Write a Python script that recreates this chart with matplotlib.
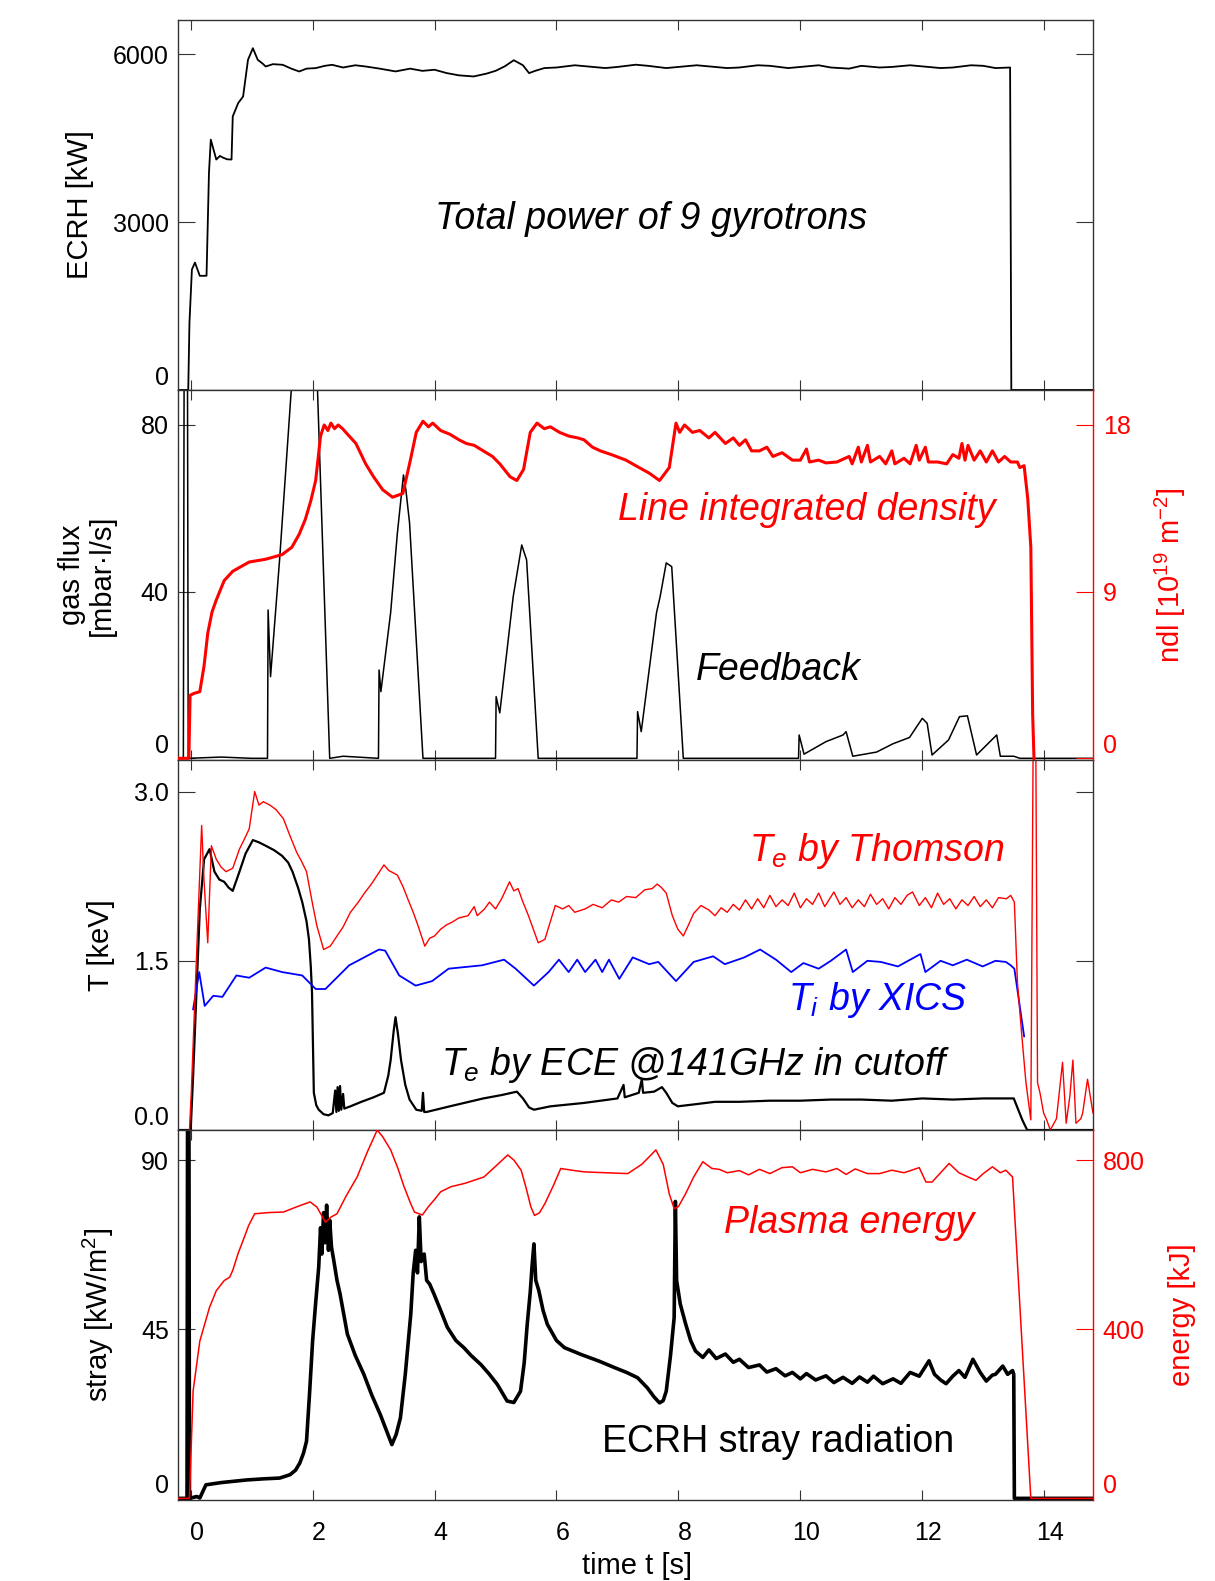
import matplotlib.pyplot as plt
import matplotlib.transforms as mtransforms

plt.rcParams['font.family'] = ['Liberation Sans', 'DejaVu Sans']
plt.rcParams['mathtext.fontset'] = 'custom'
plt.rcParams['mathtext.rm'] = 'Liberation Sans'
plt.rcParams['mathtext.it'] = 'Liberation Sans:italic'

# ---- data (time in s) ----
ecrh_t = [-0.2, -0.04, -0.02, 0.02, 0.07, 0.15, 0.26, 0.30, 0.33, 0.42, 0.48, 0.53, 0.6, 0.67,
          0.69, 0.78, 0.86, 0.94, 1.02, 1.10, 1.18, 1.23, 1.35, 1.51, 1.65, 1.78, 1.9, 2.05,
          2.2, 2.32, 2.5, 2.7, 2.87, 3.1, 3.36, 3.6, 3.8, 4.0, 4.2, 4.4, 4.64, 4.85, 5.0,
          5.15, 5.3, 5.45, 5.55, 5.65, 5.8, 6.0, 6.3, 6.5, 6.8, 7.0, 7.3, 7.5, 7.8, 8.0, 8.3,
          8.5, 8.8, 9.0, 9.3, 9.5, 9.8, 10.0, 10.3, 10.5, 10.8, 11.0, 11.3, 11.5, 11.8, 12.0,
          12.3, 12.5, 12.8, 13.0, 13.2, 13.44, 13.46, 14.8]
ecrh_kw = [0, 0, 1200, 2150, 2276, 2038, 2040, 3879, 4472, 4116, 4180, 4150, 4120, 4116,
           4887, 5126, 5243, 5897, 6105, 5897, 5830, 5778, 5820, 5808, 5740, 5689, 5740, 5749,
           5790, 5808, 5760, 5800, 5778, 5740, 5690, 5740, 5700, 5720, 5660, 5620, 5600, 5650, 5700,
           5780, 5890, 5800, 5660, 5700, 5750, 5760, 5800, 5780, 5750, 5770, 5810, 5790, 5750, 5770, 5800,
           5780, 5750, 5760, 5800, 5790, 5750, 5770, 5800, 5760, 5740, 5790, 5760, 5770, 5800, 5780,
           5750, 5760, 5800, 5790, 5750, 5760, 0, 0]

gas_t = [-0.2, -0.12, -0.1, -0.06, -0.04, 0.5, 1.0, 1.26, 1.27, 1.31, 1.46, 1.65, 1.75, 1.95,
         2.08, 2.28, 2.5, 3.08, 3.09, 3.12, 3.28, 3.39, 3.49, 3.53, 3.59, 3.81, 5.0, 5.01,
         5.07, 5.29, 5.43, 5.51, 5.70, 7.32, 7.33, 7.39, 7.64, 7.70, 7.80, 7.89, 8.08, 9.97,
         9.98, 10.06, 10.42, 10.70, 10.75, 10.86, 11.25, 11.52, 11.79, 12.0, 12.08, 12.16,
         12.43, 12.61, 12.74, 12.89, 13.22, 13.28, 13.5, 13.6, 14.8]
gas_flux = [0, 0, 150, 150, 0, 0.3, 0, 0, 35.6, 19.6, 48, 88.4, 96, 96,
            88.4, 0, 0.5, 0, 21.2, 16, 35, 54, 68, 64.4, 56.5, 0, 0, 14.8,
            10.9, 38.8, 51.2, 47.6, 0, 0, 11.2, 6.4, 34.9, 38.8, 46.9, 46.0, 0, 0,
            5.6, 1.0, 4.0, 5.6, 6.4, 0.5, 1.5, 3.5, 5.0, 9.6, 8.4, 0.8,
            4.4, 10.0, 10.2, 0.8, 5.6, 0.5, 0.5, 0, 0]

ndl_t = [-0.2, -0.03, -0.01, 0.05, 0.15, 0.22, 0.28, 0.35, 0.42, 0.55, 0.69, 0.96, 1.23, 1.5,
         1.66, 1.78, 1.88, 1.97, 2.05, 2.13, 2.19, 2.25, 2.3, 2.36, 2.42, 2.49, 2.6, 2.71, 2.87,
         3.0, 3.15, 3.31, 3.48, 3.59, 3.7, 3.81, 3.9, 3.97, 4.1, 4.25, 4.4, 4.52, 4.65, 4.8,
         4.95, 5.07, 5.24, 5.35, 5.46, 5.57, 5.68, 5.8, 5.9, 6.05, 6.2, 6.35, 6.45, 6.59, 6.72,
         6.9, 7.14, 7.3, 7.52, 7.69, 7.85, 7.96, 8.02, 8.1, 8.23, 8.35, 8.5, 8.6, 8.77, 8.9,
         9.0, 9.1, 9.2, 9.33, 9.45, 9.55, 9.7, 9.87, 10.0, 10.1, 10.15, 10.3, 10.42, 10.6,
         10.8, 10.85, 10.95, 11.0, 11.1, 11.15, 11.3, 11.4, 11.5, 11.55, 11.7, 11.8, 11.9,
         11.95, 12.05, 12.1, 12.25, 12.4, 12.5, 12.6, 12.65, 12.7, 12.75, 12.85, 12.95, 13.05,
         13.15, 13.25, 13.35, 13.45, 13.56, 13.6, 13.67, 13.73, 13.78, 13.81, 13.85]
ndl = [0, 0, 3.4, 3.5, 3.6, 5.0, 6.75, 7.9, 8.55, 9.6, 10.1, 10.6, 10.75, 11.0,
       11.4, 12.1, 12.9, 13.9, 15.0, 17.4, 18.0, 17.7, 18.1, 17.8, 18.0, 17.8, 17.4, 17.0, 15.9,
       15.2, 14.5, 14.1, 14.3, 15.9, 17.6, 18.2, 17.9, 18.1, 17.7, 17.5, 17.2, 17.0, 16.9, 16.6,
       16.3, 15.9, 15.2, 15.0, 15.6, 17.6, 18.1, 17.8, 17.9, 17.6, 17.4, 17.3, 17.2, 16.8, 16.6,
       16.4, 16.1, 15.8, 15.4, 15.0, 15.7, 18.1, 17.6, 18.0, 17.6, 17.7, 17.3, 17.6, 17.0, 17.3,
       16.9, 17.2, 16.6, 16.6, 16.8, 16.3, 16.5, 16.1, 16.1, 16.7, 16.0, 16.1, 15.95, 16.0,
       16.3, 15.9, 16.8, 16.0, 16.9, 16.0, 16.3, 15.9, 16.6, 15.9, 16.2, 15.9, 16.9,
       16.1, 16.8, 16.0, 16.0, 15.9, 16.4, 16.2, 17.0, 16.1, 16.9, 16.1, 16.6, 16.0,
       16.6, 16.0, 16.3, 16.0, 16.0, 15.7, 15.8, 14.0, 11.4, 2.4, -2.0]

te_ts_t = [-0.02, 0.01, 0.1, 0.18, 0.22, 0.28, 0.34, 0.42, 0.5, 0.58, 0.69, 0.8, 0.9, 0.96,
           1.05, 1.12, 1.19, 1.3, 1.4, 1.52, 1.62, 1.74, 1.82, 1.9, 2.0, 2.07, 2.18, 2.29, 2.4,
           2.5, 2.62, 2.75, 2.85, 2.95, 3.05, 3.17, 3.25, 3.39, 3.48, 3.56, 3.65, 3.73, 3.84,
           3.92, 4.0, 4.1, 4.2, 4.28, 4.4, 4.55, 4.65, 4.7, 4.82, 4.9, 5.0, 5.10, 5.23, 5.3,
           5.37, 5.45, 5.54, 5.62, 5.70, 5.81, 5.9, 5.98, 6.1, 6.2, 6.3, 6.47, 6.6, 6.75, 6.9,
           7.02, 7.15, 7.3, 7.45, 7.57, 7.65, 7.72, 7.80, 7.9, 7.99, 8.08, 8.15, 8.25, 8.37,
           8.5, 8.6, 8.7, 8.8, 8.9, 9.0, 9.1, 9.2, 9.3, 9.4, 9.5, 9.6, 9.7, 9.8, 9.9, 10.0,
           10.1, 10.2, 10.3, 10.4, 10.55, 10.65, 10.75, 10.85, 10.95, 11.05, 11.15, 11.25,
           11.35, 11.45, 11.55, 11.65, 11.75, 11.84, 11.95, 12.05, 12.15, 12.25, 12.35, 12.45,
           12.55, 12.65, 12.75, 12.85, 12.95, 13.05, 13.15, 13.25, 13.38, 13.45, 13.51, 13.56,
           13.63, 13.70, 13.78, 13.82, 13.86, 13.89, 13.93, 13.99, 14.04, 14.1, 14.2, 14.3,
           14.36, 14.42, 14.47, 14.52, 14.6, 14.63, 14.71, 14.8]
te_ts = [0.0, 0.33, 1.6, 2.70, 2.2, 1.66, 2.52, 2.40, 2.33, 2.29, 2.32, 2.49, 2.6, 2.67,
         3.0, 2.88, 2.91, 2.88, 2.84, 2.76, 2.62, 2.46, 2.38, 2.29, 2.0, 1.81, 1.60, 1.63, 1.72,
         1.80, 1.93, 2.02, 2.10, 2.17, 2.25, 2.35, 2.30, 2.26, 2.16, 2.05, 1.93, 1.81, 1.63,
         1.70, 1.72, 1.78, 1.82, 1.84, 1.88, 1.90, 1.98, 1.90, 1.96, 2.02, 1.96, 2.05, 2.20, 2.12,
         2.14, 2.02, 1.90, 1.78, 1.66, 1.69, 1.85, 1.99, 1.96, 1.99, 1.93, 1.96, 2.0, 1.97, 2.04,
         2.02, 2.07, 2.06, 2.13, 2.14, 2.18, 2.15, 2.10, 1.90, 1.78, 1.72, 1.80, 1.92, 1.99,
         1.95, 1.90, 1.97, 1.93, 2.0, 1.95, 2.04, 1.96, 2.05, 1.97, 2.08, 1.98, 2.04, 1.99, 2.1, 1.97,
         2.05, 2.0, 2.1, 1.98, 2.11, 2.0, 2.06, 1.97, 2.04, 1.98, 2.09, 2.0,
         2.05, 1.96, 2.06, 2.0, 2.08, 2.11, 1.99, 2.06, 1.97, 2.1, 2.0, 2.05,
         1.96, 2.04, 1.99, 2.07, 1.98, 2.04, 1.97, 2.06, 2.05, 2.08, 2.02, 1.31,
         0.85, 0.42, 0.09, 3.6, 3.6, 0.42, 0.33, 0.15, 0.09, 0.0, 0.1, 0.6,
         0.06, 0.3, 0.62, 0.06, 0.1, 0.15, 0.45, 0.15]

ti_t = [0.04, 0.14, 0.23, 0.37, 0.52, 0.75, 0.96, 1.23, 1.5, 1.83, 2.05, 2.21, 2.6, 3.09,
        3.19, 3.42, 3.69, 3.96, 4.23, 4.78, 5.14, 5.33, 5.63, 5.87, 6.04, 6.20, 6.34, 6.47,
        6.64, 6.75, 6.86, 7.03, 7.25, 7.52, 7.67, 7.96, 8.25, 8.57, 8.76, 9.08, 9.34, 9.6,
        9.85, 10.05, 10.3, 10.5, 10.75, 10.86, 11.1, 11.32, 11.6, 11.97, 12.05, 12.3, 12.5,
        12.73, 12.99, 13.2, 13.37, 13.45, 13.51, 13.59, 13.67]
ti_xics = [1.07, 1.40, 1.10, 1.19, 1.18, 1.37, 1.35, 1.44, 1.40, 1.37, 1.25, 1.25, 1.46, 1.60,
           1.59, 1.37, 1.28, 1.32, 1.43, 1.46, 1.51, 1.43, 1.28, 1.40, 1.51, 1.40, 1.51, 1.40,
           1.51, 1.40, 1.51, 1.34, 1.53, 1.47, 1.49, 1.32, 1.49, 1.54, 1.47, 1.53, 1.60, 1.51,
           1.40, 1.48, 1.43, 1.50, 1.60, 1.40, 1.50, 1.49, 1.45, 1.56, 1.40, 1.50, 1.46,
           1.51, 1.45, 1.50, 1.49, 1.46, 1.43, 1.13, 0.83]

te_ece_t = [-0.2, 0.0, 0.04, 0.15, 0.22, 0.31, 0.39, 0.47, 0.55, 0.62, 0.69, 0.8, 0.9, 1.02,
            1.12, 1.23, 1.37, 1.5, 1.6, 1.67, 1.76, 1.83, 1.9, 1.94, 1.97, 1.99, 2.02, 2.06,
            2.1, 2.18, 2.26, 2.33, 2.37, 2.39, 2.41, 2.43, 2.45, 2.47, 2.5, 2.52, 2.62, 2.8,
            3.0, 3.17, 3.24, 3.28, 3.33, 3.36, 3.4, 3.45, 3.52, 3.59, 3.70, 3.79, 3.81, 3.83,
            3.87, 4.25, 4.8, 5.1, 5.35, 5.45, 5.55, 5.63, 5.9, 6.45, 7.0, 7.1, 7.12, 7.35, 7.4,
            7.42, 7.6, 7.73, 7.8, 7.9, 7.99, 8.3, 8.6, 9.0, 9.5, 10.0, 10.5, 11.0, 11.5, 12.0,
            12.5, 13.0, 13.5, 13.64, 13.72, 14.8]
te_ece = [0, 0, 0.48, 1.96, 2.4, 2.49, 2.29, 2.22, 2.20, 2.15, 2.12, 2.29, 2.45, 2.57,
          2.55, 2.52, 2.48, 2.43, 2.37, 2.29, 2.15, 2.02, 1.85, 1.69, 1.45, 1.22, 0.33, 0.22,
          0.18, 0.14, 0.13, 0.15, 0.35, 0.16, 0.38, 0.17, 0.39, 0.18, 0.32, 0.19, 0.21, 0.25,
          0.29, 0.33, 0.48, 0.62, 0.88, 1.0, 0.85, 0.62, 0.40, 0.27, 0.18, 0.17, 0.33, 0.16,
          0.16, 0.21, 0.28, 0.31, 0.34, 0.28, 0.2, 0.18, 0.21, 0.24, 0.28, 0.40, 0.29, 0.33, 0.45,
          0.33, 0.34, 0.38, 0.33, 0.24, 0.21, 0.23, 0.25, 0.25, 0.26, 0.26, 0.27, 0.27, 0.26, 0.28,
          0.27, 0.28, 0.28, 0.09, 0.0, 0.0]

wdia_t = [-0.2, -0.02, 0.04, 0.15, 0.31, 0.42, 0.55, 0.64, 0.69, 0.78, 0.86, 0.95, 1.05, 1.3,
          1.52, 1.75, 1.96, 2.07, 2.21, 2.3, 2.40, 2.55, 2.73, 2.9, 3.06, 3.15, 3.28, 3.4, 3.50,
          3.6, 3.67, 3.80, 3.9, 3.99, 4.1, 4.27, 4.5, 4.81, 5.0, 5.2, 5.3, 5.42, 5.5, 5.58, 5.64,
          5.72, 5.81, 5.95, 6.07, 6.3, 6.46, 6.8, 7.17, 7.4, 7.55, 7.63, 7.75, 7.85, 7.93, 8.0,
          8.12, 8.25, 8.40, 8.55, 8.67, 8.8, 9.0, 9.15, 9.33, 9.5, 9.7, 9.87, 10.0, 10.2, 10.42,
          10.6, 10.75, 10.9, 11.1, 11.3, 11.5, 11.7, 11.95, 12.06, 12.16, 12.3, 12.44, 12.6, 12.75,
          12.88, 13.0, 13.15, 13.28, 13.37, 13.48, 13.78, 14.8]
wdia_kj = [0, 0, 254, 372, 452, 491, 515, 523, 539, 580, 610, 645, 673, 676,
           677, 690, 701, 689, 653, 665, 673, 715, 760, 820, 871, 855, 824, 780, 737,
           700, 677, 670, 690, 705, 725, 737, 745, 760, 785, 812, 800, 776, 735, 689, 669,
           675, 697, 740, 780, 775, 772, 770, 768, 790, 812, 824, 790, 720, 685, 690,
           721, 760, 796, 780, 778, 770, 775, 765, 778, 768, 782, 784, 770, 778, 772,
           780, 766, 779, 768, 768, 776, 770, 782, 748, 748, 770, 792, 770, 760,
           752, 768, 784, 770, 776, 760, 0, 0]

stray_t = [-0.2, -0.06, -0.05, -0.03, -0.02, 0.1, 0.15, 0.25, 0.5, 0.92, 1.2, 1.46, 1.63, 1.72,
           1.79, 1.85, 1.90, 1.95, 2.0, 2.05, 2.1, 2.13, 2.15, 2.18, 2.2, 2.23, 2.26, 2.28, 2.31,
           2.35, 2.4, 2.45, 2.5, 2.57, 2.7, 2.84, 2.97, 3.11, 3.2, 3.30, 3.37, 3.44, 3.52, 3.61,
           3.65, 3.69, 3.72, 3.75, 3.78, 3.83, 3.87, 3.92, 3.99, 4.1, 4.21, 4.35, 4.48, 4.6, 4.76,
           4.9, 5.03, 5.19, 5.3, 5.41, 5.47, 5.52, 5.57, 5.6, 5.63, 5.66, 5.71, 5.78, 5.85, 6.0,
           6.13, 6.4, 6.7, 6.95, 7.15, 7.33, 7.49, 7.6, 7.69, 7.75, 7.80, 7.87, 7.93, 7.95, 7.97,
           8.03, 8.12, 8.2, 8.28, 8.4, 8.5, 8.62, 8.77, 8.9, 9.0, 9.15, 9.33, 9.45, 9.6, 9.75,
           9.87, 10.0, 10.1, 10.25, 10.42, 10.55, 10.7, 10.85, 10.97, 11.1, 11.2, 11.35, 11.52,
           11.65, 11.8, 11.95, 12.11, 12.2, 12.3, 12.39, 12.5, 12.6, 12.7, 12.83, 12.95, 13.05,
           13.15, 13.2, 13.32, 13.4, 13.48, 13.5, 13.51, 14.8]
stray_kw = [0, 0, 120, 120, 0, 0.5, 0.1, 3.6, 4.2, 4.9, 5.2, 5.4, 6.3, 7.5,
            9.4, 12, 15.2, 28, 41.9, 52, 61.5, 72, 65, 76, 68, 78, 66, 74, 66.8,
            63, 58, 54.4, 50, 43.7, 38, 33.0, 27.5, 22.3, 18.5, 14.3, 17, 21.4, 33, 49,
            60, 66, 60, 74.9, 63, 65, 58, 57, 54.4, 50, 45.5, 42, 40.1, 38, 35.6,
            33, 30.3, 25.9, 25.5, 28.5, 36, 46.3, 55, 62, 67.7, 58, 55.3, 50, 46.3, 42,
            40.1, 38.3, 36.5, 34.8, 33.5, 32.1, 29.4, 27, 25.4, 26, 28.5, 38, 48.1, 79, 58,
            51.7, 46.3, 42, 39.2, 37.5, 39.5, 37.2, 38.4, 36.2, 37.0, 34.8, 35.5, 33.6, 34.5, 32.6,
            33.5, 31.8, 33.2, 31.5, 32.6, 30.8, 32.2, 30.6, 32.3, 30.9, 32.5, 30.5, 31.8,
            30.6, 33.5, 32.5, 36.6, 33, 31.5, 30.5, 32.5, 34, 32.2, 37, 33.5, 31.2,
            32.8, 33, 35.2, 33.0, 34.0, 33, 0, 0]

x_ticks = [0, 2, 4, 6, 8, 10, 12, 14]

fig = plt.figure(figsize=(12.15, 15.81), dpi=100)

left, width = 0.1469, 0.7527
bottom0, h = 0.0512, 0.23405
axes = [fig.add_axes([left, bottom0 + (3 - i) * h, width, h]) for i in range(4)]
ax1, ax2, ax3, ax4 = axes

FS_TICK = 18
FS_LAB = 21
FS_NOTE = 27
SPINE = '#333333'


def style(ax, right_ticks=True):
    ax.set_xlim(-0.2, 14.8)
    ax.set_xticks(x_ticks)
    ax.tick_params(axis='x', direction='in', length=7, width=0.8, top=True, bottom=True,
                   labelbottom=False, pad=15, labelsize=FS_TICK, color=SPINE)
    ax.tick_params(axis='y', direction='in', length=12, width=0.8, left=True, right=right_ticks,
                   labelsize=FS_TICK, pad=7, color=SPINE)
    for s in ax.spines.values():
        s.set_linewidth(1.0)
        s.set_color(SPINE)


def red_twin(ax):
    tw = ax.twinx()
    ax.spines['right'].set_visible(False)
    for k in ['left', 'top', 'bottom']:
        tw.spines[k].set_visible(False)
    tw.spines['right'].set_color('red')
    tw.spines['right'].set_linewidth(1.0)
    tw.tick_params(axis='y', direction='in', length=12, width=0.8, colors='red',
                   labelsize=FS_TICK, pad=7)
    return tw


def lift_zero_label(ax, which='left'):
    ticks = ax.yaxis.get_major_ticks()
    lab = ticks[0].label1 if which == 'left' else ticks[0].label2
    lab.set_va('bottom')


def side_label(ax, x, text, color='black', **kw):
    ax.text(x, 0.5, text, transform=ax.transAxes, rotation=90, fontsize=FS_LAB, color=color,
            ha='center', va='center', rotation_mode='anchor', **kw)


# panel 1: ECRH power
style(ax1)
ax1.plot(ecrh_t, ecrh_kw, color='black', lw=1.3)
ax1.set_ylim(0, 6610)
ax1.set_yticks([0, 3000, 6000])
lift_zero_label(ax1)
ax1.text(7.55, 3060, 'Total power of 9 gyrotrons', fontsize=FS_NOTE, style='italic',
         ha='center', va='center')
side_label(ax1, -0.1077, 'ECRH [kW]')

# panel 2: gas flux and line integrated density
style(ax2, right_ticks=False)
ax2.plot(gas_t, gas_flux, color='black', lw=1.1)
ax2.set_ylim(-0.4, 88.4)
ax2.set_yticks([0, 40, 80])
lift_zero_label(ax2)
ax2r = red_twin(ax2)
ax2r.plot(ndl_t, ndl, color='red', lw=2.2)
ax2r.set_ylim(-0.09, 19.89)
ax2r.set_yticks([0, 9, 18])
lift_zero_label(ax2r, 'right')
ax2.text(9.63, 21.2, 'Feedback', fontsize=FS_NOTE, style='italic', ha='center', va='center')
ax2.text(10.11, 59.5, 'Line integrated density', fontsize=FS_NOTE, style='italic',
         color='red', ha='center', va='center')
side_label(ax2, -0.1004, 'gas flux\n[mbar\u00b7l/s]', linespacing=1.1)
side_label(ax2r, 1.0842, r'ndl [10$^{19}$ m$^{-2}$]', color='red')

# panel 3: temperatures
style(ax3)
ax3.plot(te_ece_t, te_ece, color='black', lw=1.6)
ax3.plot(ti_t, ti_xics, color='blue', lw=1.3)
ax3.plot(te_ts_t, te_ts, color='red', lw=1.0)
ax3.set_ylim(0, 3.28)
ax3.set_yticks([0, 1.5, 3.0])
ax3.set_yticklabels(['0.0', '1.5', '3.0'])
lift_zero_label(ax3)
ax3.text(11.25, 2.47, r'$T_e$ by Thomson', fontsize=FS_NOTE, style='italic', color='red',
         ha='center', va='center')
ax3.text(11.27, 1.15, r'$T_i$ by XICS', fontsize=FS_NOTE, style='italic', color='blue',
         ha='center', va='center')
ax3.text(8.28, 0.58, r'$T_e$ by ECE @141GHz in cutoff', fontsize=FS_NOTE, style='italic',
         ha='center', va='center')
side_label(ax3, -0.0847, 'T [keV]')

# panel 4: stray radiation and plasma energy
style(ax4, right_ticks=False)
ax4.tick_params(axis='x', labelbottom=True)
ax4.plot(stray_t, stray_kw, color='black', lw=2.6)
ax4.set_ylim(-0.45, 98.0)
ax4.set_yticks([0, 45, 90])
lift_zero_label(ax4)
ax4r = red_twin(ax4)
ax4r.plot(wdia_t, wdia_kj, color='red', lw=1.1)
ax4r.set_ylim(-4, 871)
ax4r.set_yticks([0, 400, 800])
lift_zero_label(ax4r, 'right')
ax4.text(10.8, 73.3, 'Plasma energy', fontsize=FS_NOTE, style='italic', color='red',
         ha='center', va='center')
ax4.text(9.64, 15.0, 'ECRH stray radiation', fontsize=FS_NOTE, ha='center', va='center')
side_label(ax4, -0.088, r'stray [kW/m$^2$]')
side_label(ax4r, 1.097, 'energy [kJ]', color='red')

shift = mtransforms.ScaledTranslation(6 / 100, 0, fig.dpi_scale_trans)
for tk in ax4.xaxis.get_major_ticks():
    tk.label1.set_transform(tk.label1.get_transform() + shift)

fig.text(637 / 1215, 1 - 1566 / 1581, 'time t [s]', fontsize=FS_LAB, ha='center', va='center')

fig.savefig('out.png', dpi=100)
